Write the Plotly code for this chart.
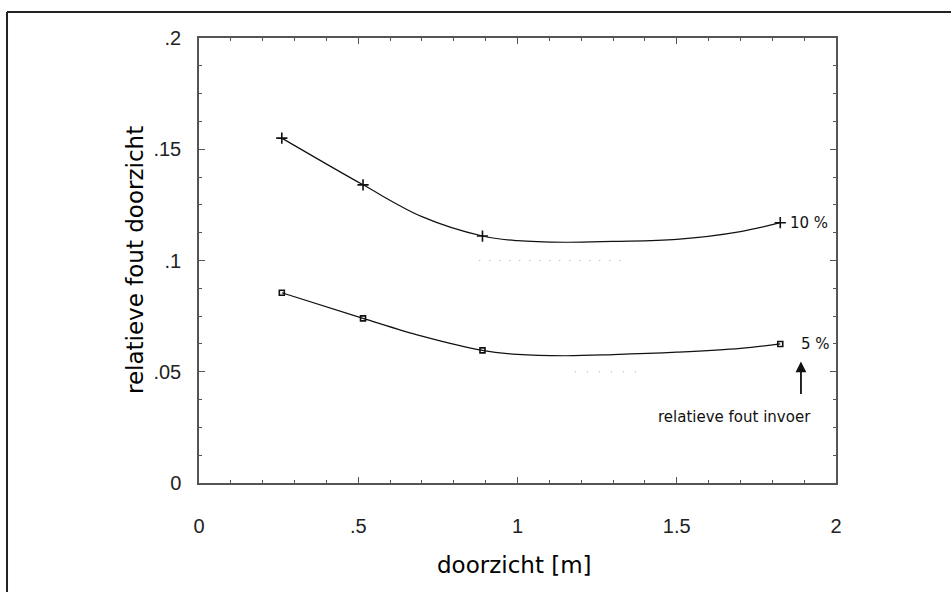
import plotly.graph_objects as go

# measured points (doorzicht in m) and relative error of doorzicht
doorzicht = [0.26, 0.515, 0.89, 1.825]
fout_10 = [0.155, 0.134, 0.111, 0.117]
fout_05 = [0.0855, 0.074, 0.0596, 0.0625]

# smooth curve readings through and between the measured points
curve_x = [0.26, 0.515, 0.7, 0.89, 1.0, 1.15, 1.3, 1.5, 1.7, 1.825]
curve_10 = [0.155, 0.134, 0.1197, 0.111, 0.1089, 0.1082, 0.1086, 0.1095, 0.1130, 0.117]
curve_05 = [0.0855, 0.074, 0.0660, 0.0596, 0.0578, 0.0572, 0.0577, 0.0588, 0.0605, 0.0625]

x_ticks = [0, 0.5, 1, 1.5, 2]
x_labels = ["0", ".5", "1", "1.5", "2"]
y_ticks = [0, 0.05, 0.1, 0.15, 0.2]
y_labels = ["0", ".05", ".1", ".15", ".2"]

ink = "#111111"
axis_col = "#555555"

fig = go.Figure()

for cy in (curve_10, curve_05):
    fig.add_trace(go.Scatter(
        x=curve_x, y=cy, mode="lines",
        line=dict(color=ink, width=1.2, shape="spline", smoothing=1.0),
        hoverinfo="skip", showlegend=False,
    ))

fig.add_trace(go.Scatter(
    x=doorzicht, y=fout_10, mode="markers",
    marker=dict(symbol="cross-thin", size=8, line=dict(color=ink, width=1.6)),
    showlegend=False,
))
fig.add_trace(go.Scatter(
    x=doorzicht, y=fout_05, mode="markers",
    marker=dict(symbol="square-open", size=5, color=ink, line=dict(color=ink, width=1.6)),
    showlegend=False,
))

tick_font = dict(family="Liberation Sans Narrow, Liberation Sans, sans-serif", size=20, color="#222")

common = dict(
    showline=True, linecolor=axis_col, linewidth=1.5, mirror="ticks",
    ticks="inside", ticklen=6, tickcolor=axis_col, tickwidth=1,
    showgrid=False, zeroline=False, tickfont=tick_font,
)

fig.update_xaxes(
    range=[0, 2], tickvals=x_ticks, ticktext=x_labels,
    minor=dict(dtick=0.1, ticks="inside", ticklen=3, tickcolor=axis_col, showgrid=False),
    ticklabelstandoff=24, **common,
)
fig.update_yaxes(
    range=[0, 0.2], tickvals=y_ticks, ticktext=y_labels,
    minor=dict(dtick=0.0125, ticks="inside", ticklen=3, tickcolor=axis_col, showgrid=False),
    ticklabelstandoff=12, **common,
)

# faint dotted grid remnants
fig.add_shape(type="line", x0=0.88, x1=1.35, y0=0.1, y1=0.1,
              line=dict(color="#a8a8a8", width=1, dash="1px,9px"))
fig.add_shape(type="line", x0=1.18, x1=1.40, y0=0.05, y1=0.05,
              line=dict(color="#a8a8a8", width=1, dash="1px,11px"))

# frame around the figure
frame = dict(color="#222", width=2)
fig.add_shape(type="line", xref="paper", yref="paper", x0=-0.3014, x1=1.2, y0=1.0584, y1=1.0584, line=frame)
fig.add_shape(type="line", xref="paper", yref="paper", x0=-0.3014, x1=-0.3014, y0=1.0584, y1=-0.3, line=frame)

label_font = dict(family="DejaVu Sans, sans-serif", size=15, color="#111")
fig.add_annotation(x=1.849, y=0.117, text="10 %", showarrow=False, xanchor="left", yanchor="middle", font=label_font)
fig.add_annotation(x=1.885, y=0.0625, text="5 %", showarrow=False, xanchor="left", yanchor="middle", font=label_font)
fig.add_annotation(x=1.89, y=0.0546, ax=0, ay=34, text="", showarrow=True,
                   arrowhead=2, arrowsize=1.2, arrowwidth=1.8, arrowcolor="#111")
fig.add_annotation(x=1.68, y=0.0297, text="relatieve fout invoer", showarrow=False,
                   xanchor="center", yanchor="middle", font=label_font)

title_font = dict(family="DejaVu Sans, sans-serif", size=23, color="#000")
fig.add_annotation(xref="paper", yref="paper", x=-0.1005, y=0.501, text="relatieve fout doorzicht",
                   textangle=-90, showarrow=False, xanchor="center", yanchor="middle", font=title_font)
fig.add_annotation(xref="paper", yref="paper", x=0.496, y=-0.184, text="doorzicht [m]",
                   showarrow=False, xanchor="center", yanchor="middle", font=title_font)

fig.update_layout(
    width=951, height=592,
    margin=dict(l=199, r=115, t=38, b=109),
    paper_bgcolor="white", plot_bgcolor="white",
    showlegend=False,
)

fig.write_html("out.html")
